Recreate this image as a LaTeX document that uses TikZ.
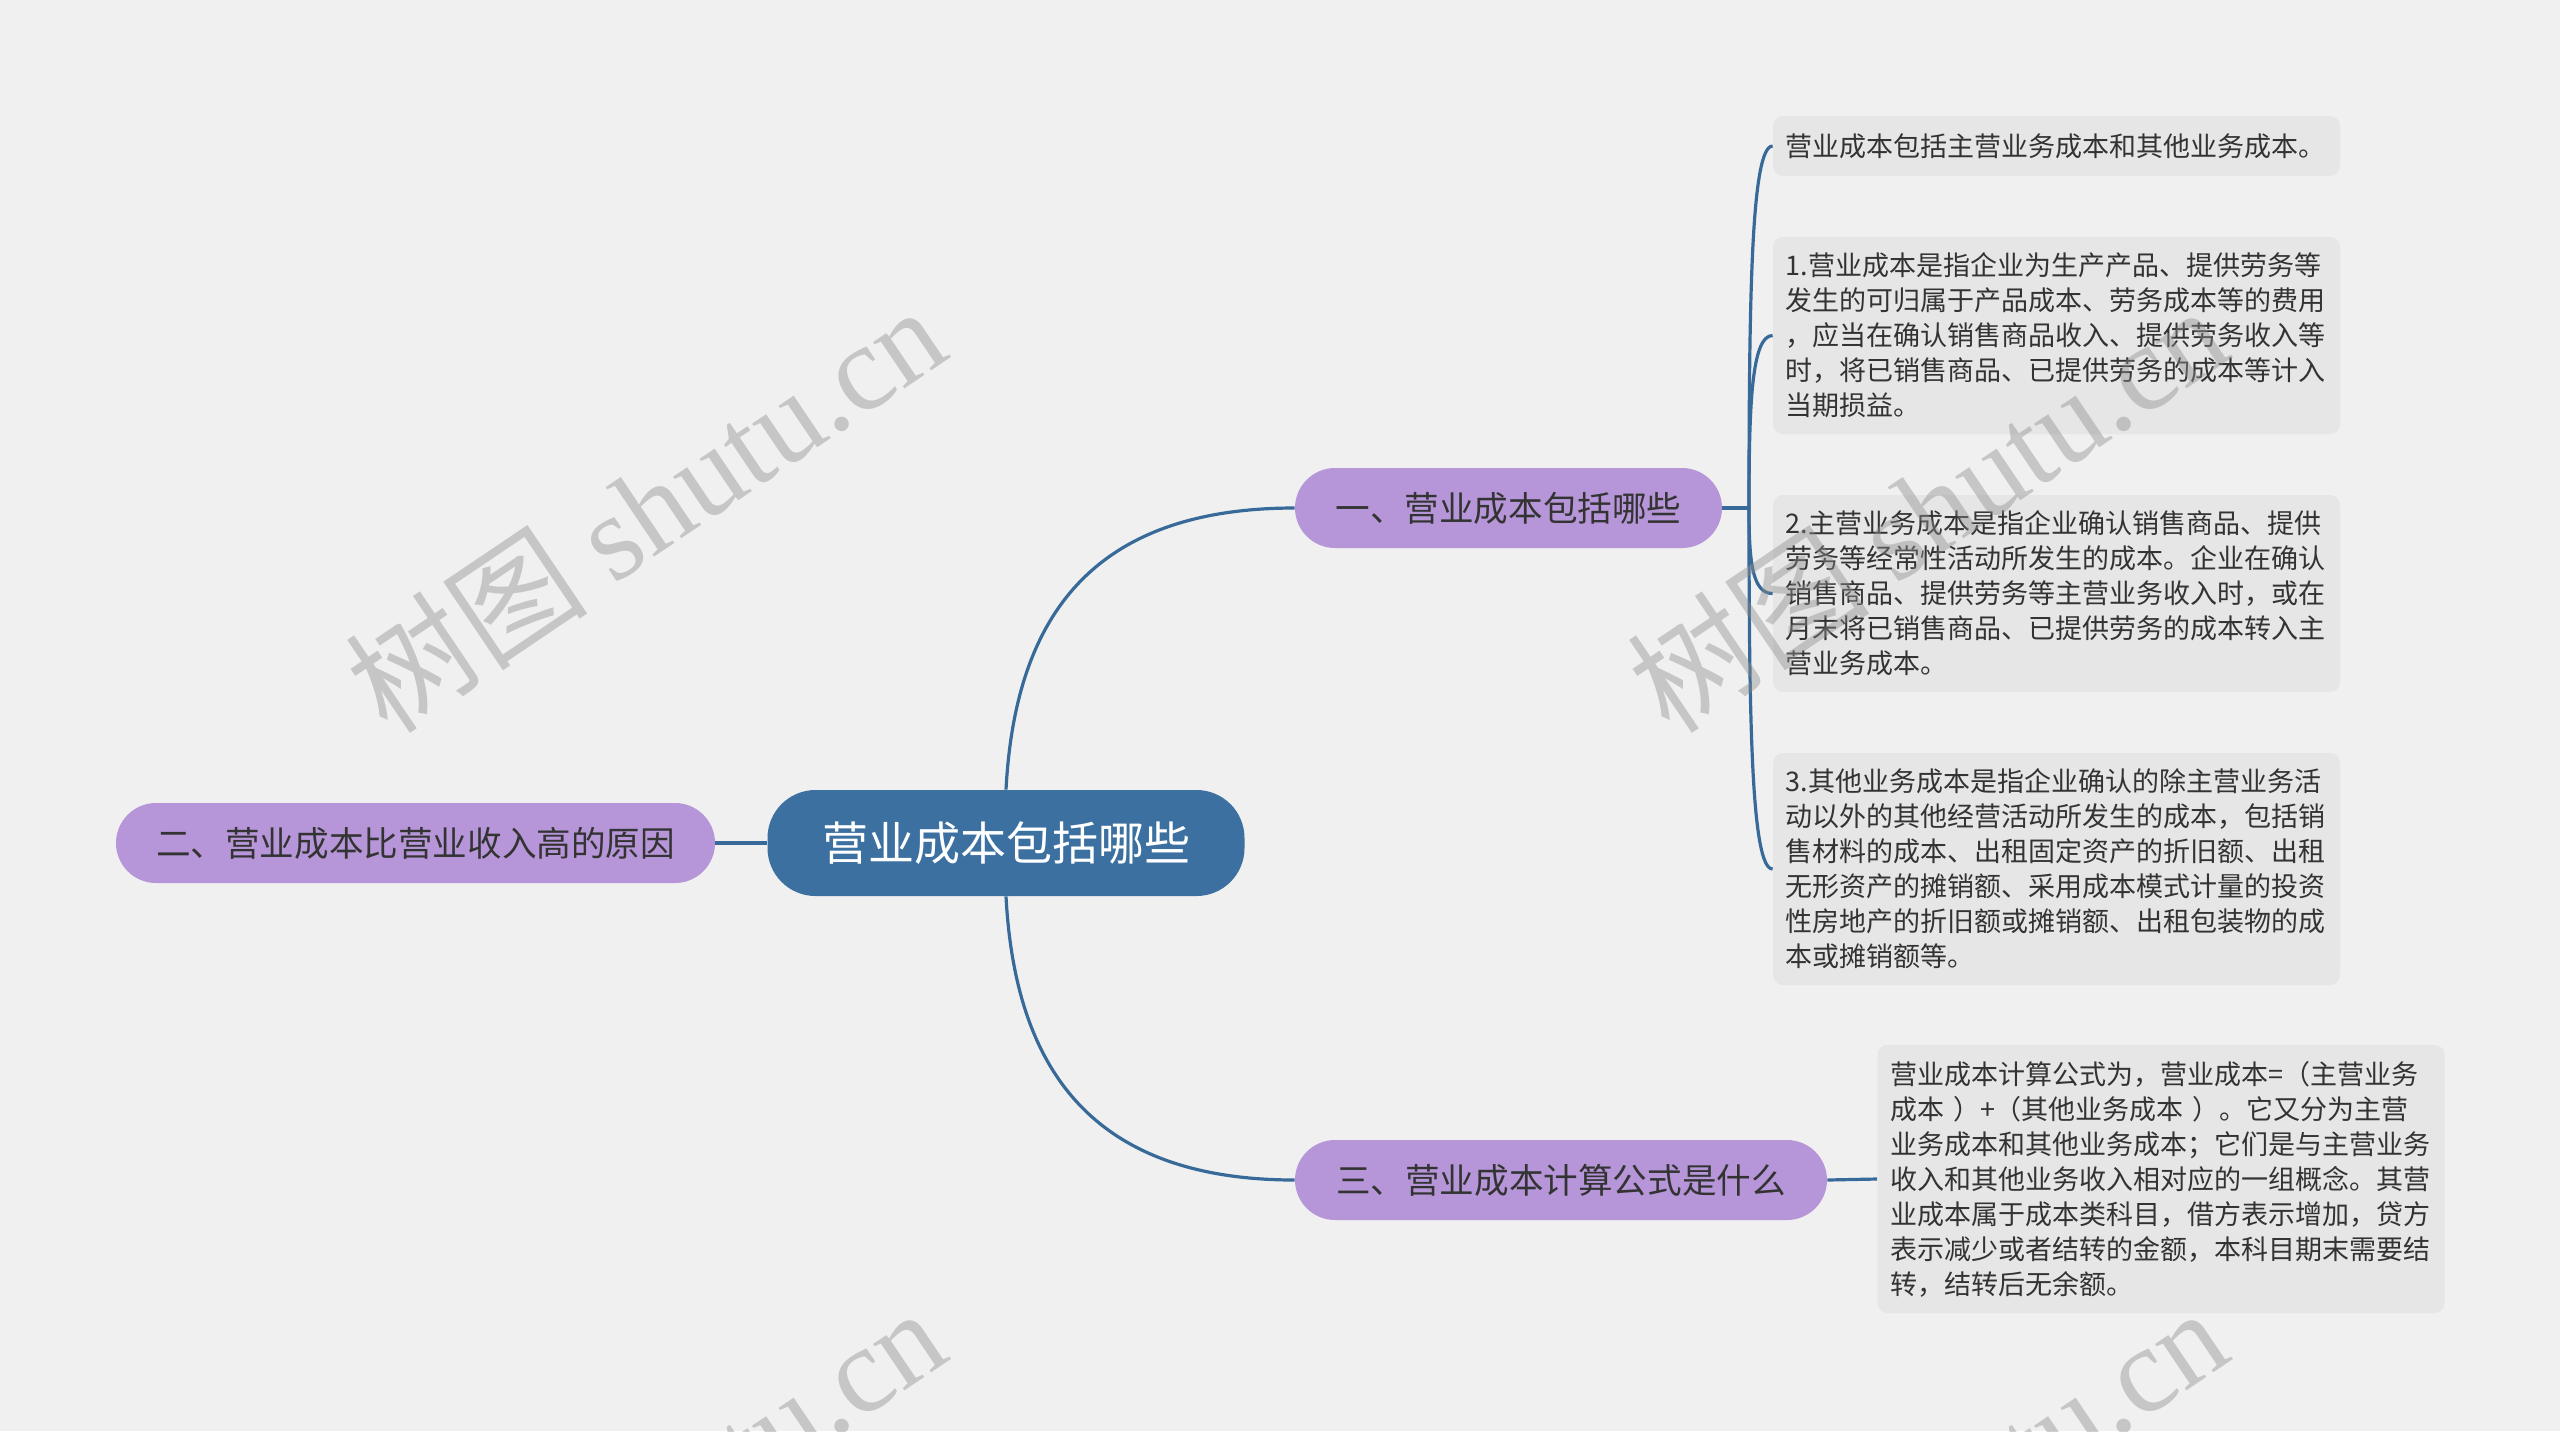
\documentclass[tikz,border=0pt]{standalone}
\usepackage{fontspec}
\setmainfont{Noto Sans CJK SC}
\newfontfamily\wmlatin{Liberation Serif}
\definecolor{bgc}{HTML}{F0F0F0}
\definecolor{mainblue}{HTML}{3B70A0}
\definecolor{linkblue}{HTML}{386A99}
\definecolor{lav}{HTML}{B696D8}
\definecolor{leafbg}{HTML}{E6E6E6}
\definecolor{txt}{HTML}{333333}
\definecolor{wmc}{HTML}{8C8C8C}
\begin{document}
\begin{tikzpicture}[x=0.5pt,y=-0.5pt,
  centralnode/.style={fill=mainblue, text=white, rounded corners=24pt, minimum width=238.5pt, minimum height=53pt, inner sep=0pt, font=\fontsize{23}{28}\selectfont},
  branchnode/.style={fill=lav, text=txt, rounded corners=20pt, minimum height=40pt, inner sep=0pt, font=\fontsize{17.3}{21}\selectfont},
  leafnode/.style={fill=leafbg, text=txt, rounded corners=5pt, align=left, text width=271pt, inner xsep=6.25pt, inner ysep=0pt, font=\fontsize{13.5}{17.5}\selectfont},
  link/.style={draw=linkblue, line width=1.6pt},
  wmark/.style={rotate=34, text=wmc, text opacity=0.42, inner sep=0pt, font=\fontsize{61}{66}\selectfont}
]
\useasboundingbox (0,0) rectangle (2560,1431);
\fill[bgc] (0,0) rectangle (2560,1431);

% nodes
\node[centralnode] (c) at (1006,843) {营业成本包括哪些};
\node[branchnode, minimum width=299.5pt] (n2) at (415.5,843) {二、营业成本比营业收入高的原因};
\node[branchnode, minimum width=213.5pt] (n1) at (1508.5,508) {一、营业成本包括哪些};
\node[branchnode, minimum width=266pt] (n3) at (1561,1180) {三、营业成本计算公式是什么};

\node[leafnode, minimum height=30pt] (la) at (2056.5,146) {营业成本包括主营业务成本和其他业务成本。};
\node[leafnode, minimum height=98.5pt] (lb) at (2056.5,335.5) {1.营业成本是指企业为生产产品、提供劳务等\\发生的可归属于产品成本、劳务成本等的费用\\，应当在确认销售商品收入、提供劳务收入等\\时，将已销售商品、已提供劳务的成本等计入\\当期损益。};
\node[leafnode, minimum height=98.5pt] (lc) at (2056.5,593.5) {2.主营业务成本是指企业确认销售商品、提供\\劳务等经常性活动所发生的成本。企业在确认\\销售商品、提供劳务等主营业务收入时，或在\\月末将已销售商品、已提供劳务的成本转入主\\营业务成本。};
\node[leafnode, minimum height=116pt] (ld) at (2056.5,869) {3.其他业务成本是指企业确认的除主营业务活\\动以外的其他经营活动所发生的成本，包括销\\售材料的成本、出租固定资产的折旧额、出租\\无形资产的摊销额、采用成本模式计量的投资\\性房地产的折旧额或摊销额、出租包装物的成\\本或摊销额等。};
\node[leafnode, minimum height=134pt] (le) at (2161,1179) {营业成本计算公式为，营业成本=（主营业务\\成本 ）+（其他业务成本 ）。它又分为主营\\业务成本和其他业务成本；它们是与主营业务\\收入和其他业务收入相对应的一组概念。其营\\业成本属于成本类科目，借方表示增加，贷方\\表示减少或者结转的金额，本科目期末需要结\\转，结转后无余额。};

\coordinate (j1) at (1749,508);

% connectors
\draw[link] (c.north) .. controls +(9,-170) and +(-205,0) .. (n1.west);
\draw[link] (c.south) .. controls +(9,170) and +(-205,0) .. (n3.west);
\draw[link] (c.west) -- (n2.east);
\draw[link] (n1.east) -- (j1);
\draw[link] (j1) .. controls +(0,-217) and +(-21,0) .. (la.west);
\draw[link] (j1) .. controls +(0,-104) and +(-21,0) .. (lb.west);
\draw[link] (j1) .. controls +(0,51) and +(-21,0) .. (lc.west);
\draw[link] (j1) .. controls +(0,217) and +(-21,0) .. (ld.west);
\draw[link] (n3.east) -- (le.west);

% watermarks
\node[wmark] (w1) at (645,508) {树图 {\wmlatin shutu.cn}};
\node[wmark] (w2) at (1927,508) {树图 {\wmlatin shutu.cn}};
\node[wmark] (w3) at (645,1510) {树图 {\wmlatin shutu.cn}};
\node[wmark] (w4) at (1927,1510) {树图 {\wmlatin shutu.cn}};
\end{tikzpicture}
\end{document}
